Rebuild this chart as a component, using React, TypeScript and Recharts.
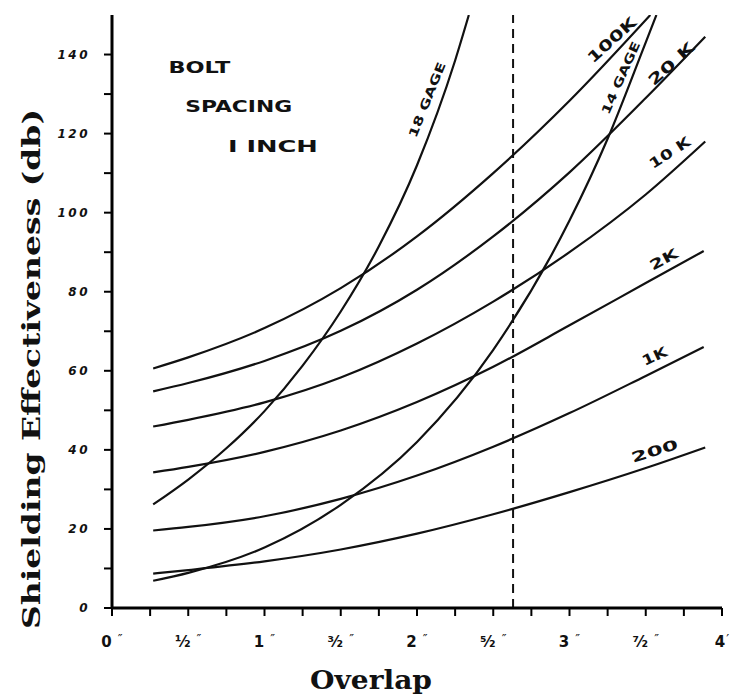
import React from 'react';
import { LineChart, Line, XAxis, YAxis, ReferenceLine, ReferenceDot } from 'recharts';

// Overlap in inches (x) and shielding effectiveness in dB (y)
const x100K = [0.27, 0.5, 1, 1.5, 2, 2.5, 3, 3.53];
const y100K = [60.6, 63.4, 70.8, 80.9, 94, 110, 128.3, 150];

const x20K = [0.27, 0.5, 1, 1.5, 2, 2.5, 3, 3.5, 3.89];
const y20K = [54.8, 56.9, 62.5, 70.1, 80.5, 94, 110.2, 129, 144.5];

const x10K = [0.27, 0.5, 1, 1.5, 2, 2.5, 3, 3.5, 3.89];
const y10K = [45.9, 47.6, 52, 58.3, 66.9, 77.5, 90, 104.6, 118];

const x2K = [0.27, 0.5, 1, 1.5, 2, 2.5, 3, 3.5, 3.88];
const y2K = [34.3, 35.7, 39.5, 44.9, 52.1, 61, 71.5, 82.2, 90.3];

const x1K = [0.27, 0.5, 1, 1.5, 2, 2.5, 3, 3.5, 3.88];
const y1K = [19.6, 20.5, 23.2, 27.6, 33.5, 40.8, 49.3, 58.7, 66];

const x200 = [0.27, 0.5, 1, 1.5, 2, 2.5, 3, 3.5, 3.89];
const y200 = [8.7, 9.6, 11.8, 14.8, 18.8, 23.7, 29.3, 35.4, 40.6];

const x18Gage = [0.27, 0.5, 0.75, 1, 1.25, 1.5, 1.75, 2, 2.25, 2.34];
const y18Gage = [26.2, 32.5, 40.4, 49.8, 61.3, 75, 91.5, 112, 138.5, 150];

const x14Gage = [0.27, 0.5, 1, 1.5, 2, 2.5, 3, 3.25, 3.5, 3.57];
const y14Gage = [6.9, 8.9, 15.3, 26.1, 42, 65.3, 98, 118.7, 143.1, 150];

const seriesNames = ['100K', '20K', '10K', '2K', '1K', '200', '18 GAGE', '14 GAGE'];
const seriesX = [x100K, x20K, x10K, x2K, x1K, x200, x18Gage, x14Gage];
const seriesY = [y100K, y20K, y10K, y2K, y1K, y200, y18Gage, y14Gage];

// curve labels: text, anchor overlap, anchor dB, rotation
const curveLabelText = ['18 GAGE', '100K', '14 GAGE', '20 K', '10 K', '2K', '1K', '200'];
const curveLabelX = [2.07, 3.28, 3.34, 3.67, 3.66, 3.62, 3.56, 3.56];
const curveLabelY = [128.5, 143.5, 134, 137.5, 115, 88, 63.5, 39.5];
const curveLabelAngle = [-68, -42, -66, -42, -33, -28, -25, -17];
const curveLabelSize = [12, 15, 12, 15, 14, 14, 14, 14];
const curveLabelLen = [80, 60, 78, 56, 46, 30, 26, 48];

// note text
const noteText = ['BOLT', 'SPACING', 'I  INCH'];
const noteX = [0.37, 0.48, 0.76];
const noteY = [136.5, 126.5, 116.5];
const noteLen = [62, 107, 90];

const dashedAt = 2.63;

const xTicks = [0, 0.25, 0.5, 0.75, 1, 1.25, 1.5, 1.75, 2, 2.25, 2.5, 2.75, 3, 3.25, 3.5, 3.75, 4];
const xTickLabels: Record<string, string> = {
  '0': '0', '0.5': '½', '1': '1', '1.5': '³⁄₂', '2': '2', '2.5': '⁵⁄₂', '3': '3', '3.5': '⁷⁄₂', '4': '4',
};
const yTicks = [0, 10, 20, 30, 40, 50, 60, 70, 80, 90, 100, 110, 120, 130, 140];

const series = seriesNames.map((name, i) => ({
  name,
  points: seriesX[i].map((x, j) => ({ x, v: seriesY[i][j] })),
}));

const YTick = (props: any) => {
  const { x, y, payload } = props;
  if (payload.value % 20 !== 0) return <g />;
  return (
    <text
      x={x - 12}
      y={y + 4}
      textAnchor="end"
      fontFamily="DejaVu Sans"
      fontStyle="italic"
      fontWeight="bold"
      fontSize={12}
      letterSpacing={2.5}
      fill="#111"
    >
      {payload.value}
    </text>
  );
};

const XTick = (props: any) => {
  const { x, y, payload } = props;
  const lab = xTickLabels[String(payload.value)];
  if (lab === undefined) return <g />;
  const last = payload.value === 4;
  return (
    <text x={x} y={y + 29} textAnchor="middle" fontFamily="DejaVu Sans" fontWeight="bold" fontSize={15} fill="#111">
      {lab}
      <tspan dx={last ? 1 : 6} dy={-4} fontSize={13} fontWeight="normal">{last ? '′' : '″'}</tspan>
    </text>
  );
};

const makeCurveLabel = (text: string, angle: number, size: number, len: number) => (props: any) => {
  const vb = props.viewBox || {};
  const cx = vb.x + (vb.width || 0) / 2;
  const cy = vb.y + (vb.height || 0) / 2;
  return (
    <text
      x={cx}
      y={cy}
      textAnchor="middle"
      dominantBaseline="middle"
      transform={`rotate(${angle} ${cx} ${cy})`}
      fontFamily="DejaVu Sans"
      fontWeight="bold"
      fontSize={size}
      textLength={len}
      lengthAdjust="spacingAndGlyphs"
      fill="#111"
    >
      {text}
    </text>
  );
};

const makeNote = (text: string, len: number) => (props: any) => {
  const vb = props.viewBox || {};
  const cx = vb.x + (vb.width || 0) / 2;
  const cy = vb.y + (vb.height || 0) / 2;
  return (
    <text
      x={cx}
      y={cy}
      textAnchor="start"
      dominantBaseline="middle"
      fontFamily="DejaVu Sans"
      fontWeight="bold"
      fontSize={15}
      textLength={len}
      lengthAdjust="spacingAndGlyphs"
      fill="#111"
    >
      {text}
    </text>
  );
};

export default function App() {
  return (
    <div style={{ position: 'absolute', left: 0, top: 0, width: 732, height: 696, background: '#fff' }}>
      <LineChart width={732} height={696} margin={{ top: 15, right: 10, bottom: 28, left: 0 }}>
        <XAxis
          type="number"
          dataKey="x"
          domain={[0, 4]}
          ticks={xTicks}
          interval={0}
          allowDataOverflow
          height={60}
          tickSize={8}
          axisLine={{ stroke: '#000', strokeWidth: 3 }}
          tickLine={{ stroke: '#000', strokeWidth: 2 }}
          tick={<XTick />}
          label={{
            content: () => (
              <text x={371} y={689} textAnchor="middle" fontFamily="DejaVu Serif" fontWeight="bold" fontSize={26} textLength={122} lengthAdjust="spacingAndGlyphs" fill="#111">
                Overlap
              </text>
            ),
          }}
        />
        <YAxis
          type="number"
          domain={[0, 150]}
          ticks={yTicks}
          interval={0}
          allowDataOverflow
          width={112}
          tickSize={8}
          axisLine={{ stroke: '#000', strokeWidth: 3 }}
          tickLine={{ stroke: '#000', strokeWidth: 2 }}
          tick={<YTick />}
          label={{
            content: () => (
              <text
                x={0}
                y={0}
                transform="translate(40,369) rotate(-90)"
                textAnchor="middle"
                fontFamily="DejaVu Serif"
                fontWeight="bold"
                fontSize={25}
                textLength={520}
                lengthAdjust="spacingAndGlyphs"
                fill="#111"
              >
                Shielding Effectiveness (db)
              </text>
            ),
          }}
        />
        <ReferenceLine x={dashedAt} stroke="#111" strokeWidth={2} strokeDasharray="9 6" />
        {series.map((s) => (
          <Line
            key={s.name}
            name={s.name}
            data={s.points}
            dataKey="v"
            type="monotone"
            stroke="#111"
            strokeWidth={2.2}
            dot={false}
            activeDot={false}
            isAnimationActive={false}
          />
        ))}
        {curveLabelText.map((t, i) => (
          <ReferenceDot
            key={'cl' + i}
            x={curveLabelX[i]}
            y={curveLabelY[i]}
            r={0}
            fill="none"
            stroke="none"
            label={{ content: makeCurveLabel(t, curveLabelAngle[i], curveLabelSize[i], curveLabelLen[i]) }}
          />
        ))}
        {noteText.map((t, i) => (
          <ReferenceDot
            key={'nt' + i}
            x={noteX[i]}
            y={noteY[i]}
            r={0}
            fill="none"
            stroke="none"
            label={{ content: makeNote(t, noteLen[i]) }}
          />
        ))}
      </LineChart>
    </div>
  );
}
